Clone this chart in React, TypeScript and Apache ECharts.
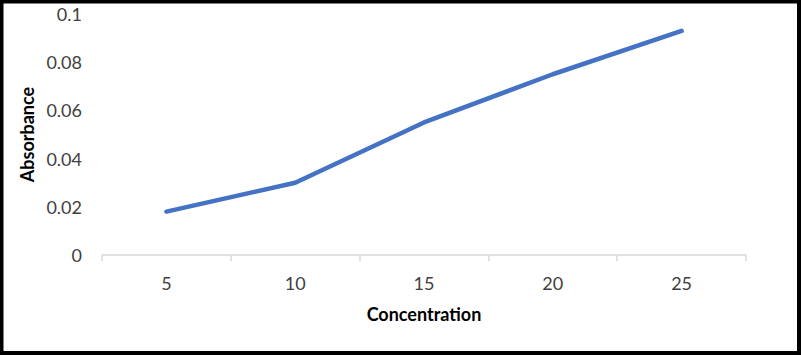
import React, { useEffect, useRef } from "react";
import * as echarts from "echarts";

const categories = ["5", "10", "15", "20", "25"];
const absorbance = [0.018, 0.03, 0.055, 0.075, 0.093];
const xTitle = "Concentration";
const yTitle = "Absorbance";

export default function App() {
  const ref = useRef<HTMLDivElement>(null);
  useEffect(() => {
    if (!ref.current) return;
    const chart = echarts.init(ref.current, undefined, { renderer: "svg" });
    chart.setOption({
      animation: false,
      backgroundColor: "#ffffff",
      textStyle: { fontFamily: "Lato" },
      grid: { left: 102, right: 55, top: 14, bottom: 100 },
      xAxis: {
        type: "category",
        data: categories,
        boundaryGap: true,
        name: xTitle,
        nameLocation: "middle",
        nameGap: 50,
        nameTextStyle: { fontSize: 18, fontWeight: "bold", color: "#000", fontFamily: "Lato" },
        axisLine: { show: true, lineStyle: { color: "#d9d9d9", width: 1.5 } },
        axisTick: { show: true, length: 6, lineStyle: { color: "#d9d9d9", width: 1.5 } },
        axisLabel: { fontSize: 18, color: "#404040", margin: 19, fontFamily: "Lato" },
        splitLine: { show: false },
      },
      yAxis: {
        type: "value",
        min: 0,
        max: 0.1,
        interval: 0.02,
        name: yTitle,
        nameLocation: "middle",
        nameGap: 63,
        nameTextStyle: { fontSize: 18, fontWeight: "bold", color: "#000", fontFamily: "Lato" },
        axisLine: { show: false },
        axisTick: { show: false },
        splitLine: { show: false },
        axisLabel: {
          fontSize: 18,
          color: "#404040",
          margin: 20,
          fontFamily: "Lato",
          formatter: (v: number) => String(parseFloat(v.toFixed(2))),
        },
      },
      series: [
        {
          type: "line",
          data: absorbance,
          showSymbol: false,
          symbol: "none",
          lineStyle: { color: "#4472C4", width: 4.5, cap: "round", join: "round" },
        },
      ],
      graphic: [
        {
          type: "rect",
          shape: { x: 1.5, y: 1.5, width: 797.5, height: 351.5 },
          style: { fill: "none", stroke: "#000", lineWidth: 4 },
          z: 100,
        },
      ],
    });
    return () => chart.dispose();
  }, []);
  return (
    <div
      ref={ref}
      style={{ position: "fixed", left: 0, top: 0, width: 801, height: 355 }}
    />
  );
}
